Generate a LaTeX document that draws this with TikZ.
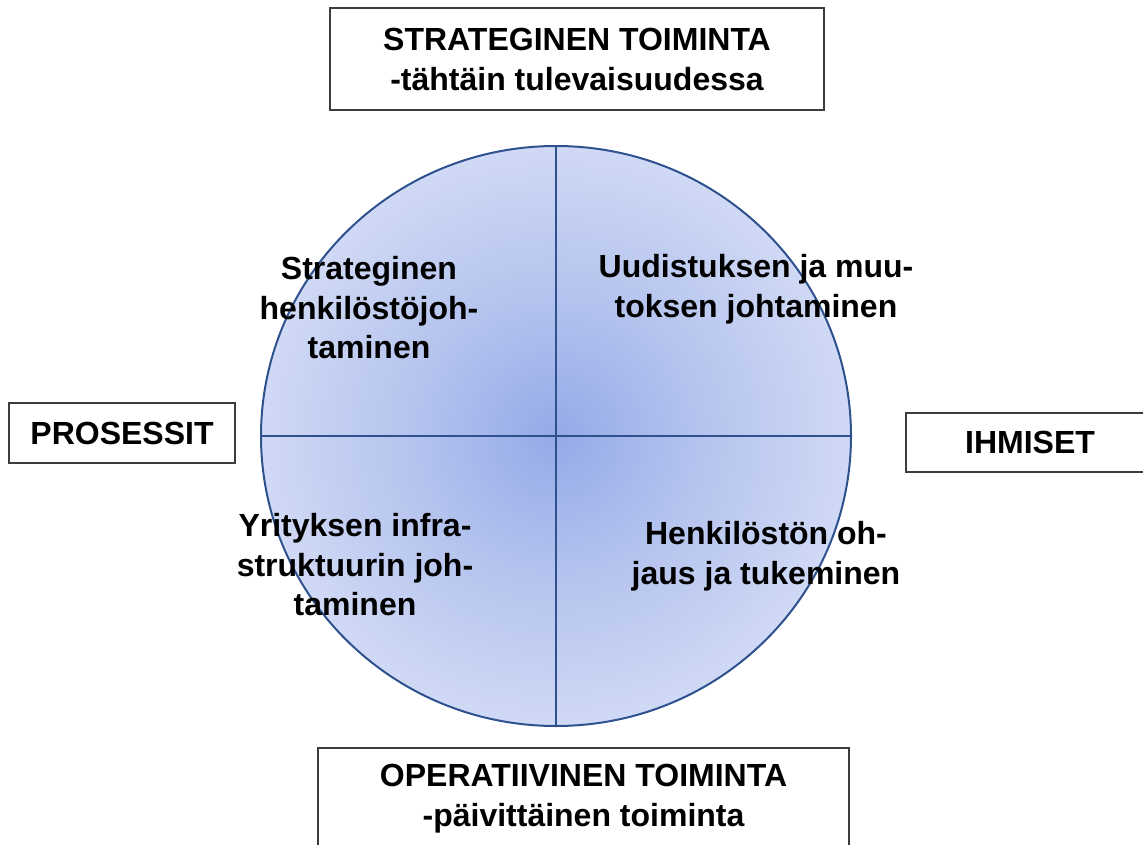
\documentclass[tikz,border=0pt]{standalone}
\usepackage{fontspec}
\setmainfont{Liberation Sans}
\usetikzlibrary{shapes.geometric}
\definecolor{circcenter}{RGB}{148,170,232}
\definecolor{circmid}{RGB}{180,195,238}
\definecolor{circedge}{RGB}{208,217,245}
\definecolor{circline}{RGB}{47,82,143}
\definecolor{boxline}{RGB}{60,60,60}
\pgfdeclareradialshading{circshade}{\pgfpoint{0bp}{0bp}}{color(0bp)=(circcenter); color(12bp)=(circmid); color(25bp)=(circedge); color(50bp)=(circedge)}
\tikzset{
  lbl/.style={font=\fontsize{32}{39.5}\selectfont\bfseries, align=center, inner sep=0pt, text=black},
  framebox/.style={draw=boxline, line width=1.4pt, fill=white, inner sep=0pt, font=\fontsize{32}{40}\selectfont\bfseries, align=center},
  quadline/.style={draw=circline, line width=2pt}
}
\begin{document}
\begin{tikzpicture}[x=1pt,y=-1pt]
\useasboundingbox (0,0) rectangle (1143,845);
\clip (0,0) rectangle (1143,845);
% circle
\node[ellipse, minimum width=590pt, minimum height=580pt, inner sep=0pt, shading=circshade, draw=circline, line width=2pt] (c) at (556,436) {};
\draw[quadline] (c.north) -- (c.south);
\draw[quadline] (c.west) -- (c.east);
% quadrant labels
\node[lbl] (q1) at (369,308) {Strateginen\\henkilöstöjoh-\\taminen};
\node[lbl] (q2) at (756,289) {Uudistuksen ja muu-\\toksen johtaminen};
\node[lbl] (q3) at (355,565) {Yrityksen infra-\\struktuurin joh-\\taminen};
\node[lbl] (q4) at (766,556) {Henkilöstön oh-\\jaus ja tukeminen};
% frame boxes
\node[framebox, minimum width=494pt, minimum height=102pt] (top) at (577,59) {STRATEGINEN TOIMINTA\\-tähtäin tulevaisuudessa};
\node[framebox, minimum width=531pt, minimum height=102pt] (bot) at (583.5,799) {OPERATIIVINEN TOIMINTA\\-päivittäinen toiminta};
\node[framebox, minimum width=226pt, minimum height=60pt] (left) at (122,433) {PROSESSIT};
\node[framebox, minimum width=248pt, minimum height=59pt] (right) at (1030,442.5) {IHMISET};
\end{tikzpicture}
\end{document}
